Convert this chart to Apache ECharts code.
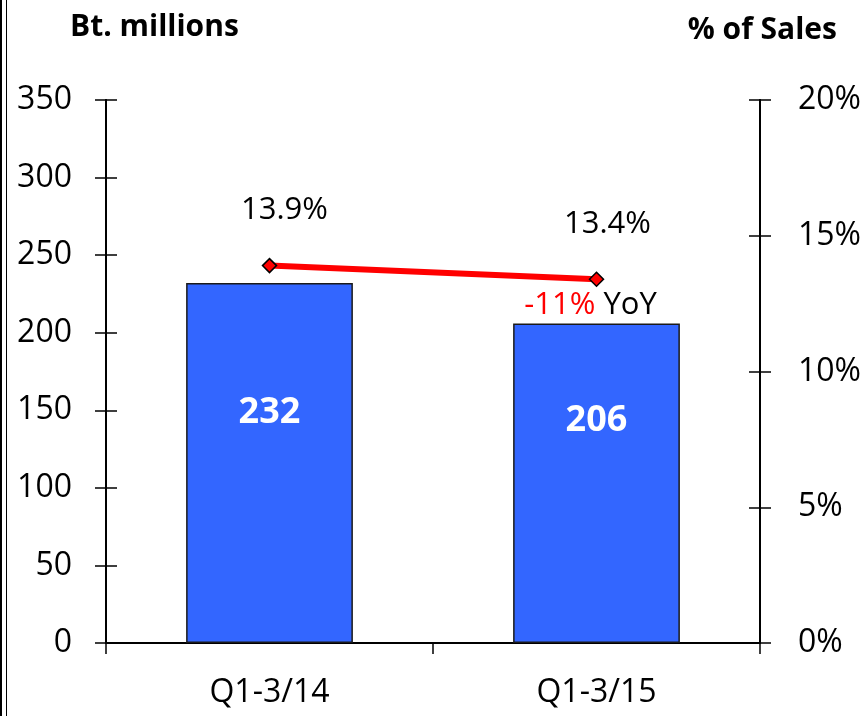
<!DOCTYPE html>
<html style="height: 100%">
<head>
	<meta charset="utf-8">
</head>
<body style="height: 100%; margin: 0; background-color: #fff;">
<div id="container" style="width: 867px; height: 716px;"></div>
<script type="text/javascript" src="https://cdn.jsdelivr.net/npm/echarts@6/dist/echarts.min.js"></script>
<script type="text/javascript">
	var categories = ['Q1-3/14', 'Q1-3/15'];
	var expenses = [232, 206];          // Bt. millions
	var pctOfSales = [13.9, 13.4];      // % of sales
	var yoyChange = -11;                // % YoY on last bar
	var leftTicks = { min: 0, max: 350, interval: 50 };
	var rightTicks = { min: 0, max: 20, interval: 5 };

	var font = 'Open Sans';
	var dom = document.getElementById('container');
	var myChart = echarts.init(dom);

	// the reference draws ticks across the axis, so each axis gets a twin with inside ticks
	function valueAxis(pos, ticks, inside, showLabel, fmt) {
		return {
			type: 'value',
			position: pos,
			min: ticks.min,
			max: ticks.max,
			interval: ticks.interval,
			axisLine: { show: true, lineStyle: { color: '#000', width: 2 } },
			axisTick: { show: true, inside: inside, length: 11, lineStyle: { color: '#000', width: 1.5 } },
			splitLine: { show: false },
			axisLabel: {
				show: showLabel,
				formatter: fmt,
				margin: pos === 'left' ? 34 : 38,
				color: '#000',
				fontSize: 32,
				fontFamily: font
			}
		};
	}

	function catAxis(inside, showLabel) {
		return {
			type: 'category',
			data: categories,
			axisLine: { show: true, lineStyle: { color: '#000', width: 2 } },
			axisTick: { show: true, inside: inside, length: 11, lineStyle: { color: '#000', width: 1.5 } },
			axisLabel: { show: showLabel, margin: 34, color: '#000', fontSize: 32, fontFamily: font }
		};
	}

	var barLabelOffsets = [[0, -50], [0, -62]];
	var lineLabelOffsets = [[15, 0], [11, 0]];

	var option = {
		animation: false,
		textStyle: { fontFamily: font },
		title: [{
			text: 'Bt. millions',
			left: 70,
			top: 12,
			padding: 0,
			textStyle: { fontSize: 30, fontWeight: 'bold', color: '#000', fontFamily: font }
		}, {
			text: '% of Sales',
			right: 30,
			top: 15,
			padding: 0,
			textStyle: { fontSize: 30, fontWeight: 'bold', color: '#000', fontFamily: font }
		}],
		graphic: [
			{ type: 'line', shape: { x1: 1, y1: 0, x2: 1, y2: 716 }, style: { stroke: '#000', lineWidth: 2 } },
			{ type: 'line', shape: { x1: 6.5, y1: 0, x2: 6.5, y2: 716 }, style: { stroke: '#000', lineWidth: 1 } }
		],
		grid: { left: 106, right: 107, top: 100, bottom: 73 },
		xAxis: [catAxis(false, true), catAxis(true, false)],
		yAxis: [
			valueAxis('left', leftTicks, false, true, '{value}'),
			valueAxis('right', rightTicks, false, true, '{value}%'),
			valueAxis('left', leftTicks, true, false, '{value}'),
			valueAxis('right', rightTicks, true, false, '{value}%')
		],
		series: [{
			type: 'bar',
			xAxisIndex: 0,
			yAxisIndex: 0,
			barWidth: '51%',
			data: expenses.map(function(v, i) {
				return { value: v, label: { offset: barLabelOffsets[i] } };
			}),
			itemStyle: { color: '#3366FF', borderColor: '#1a1a1a', borderWidth: 1.5 },
			label: {
				show: true,
				position: 'inside',
				color: '#fff',
				fontSize: 36,
				fontWeight: 'bold',
				fontFamily: font
			},
			markPoint: {
				symbol: 'rect',
				symbolSize: 1,
				itemStyle: { color: 'transparent' },
				data: [{ coord: [categories.length - 1, expenses[expenses.length - 1]] }],
				label: {
					show: true,
					position: 'top',
					distance: 2,
					offset: [-6, 0],
					formatter: function() {
						return '{r|' + yoyChange + '%}{k| YoY}';
					},
					rich: {
						r: { color: '#FF0000', fontSize: 31, fontFamily: font },
						k: { color: '#000', fontSize: 31, fontFamily: font }
					}
				}
			}
		}, {
			type: 'line',
			xAxisIndex: 0,
			yAxisIndex: 1,
			data: pctOfSales.map(function(v, i) {
				return { value: v, label: { offset: lineLabelOffsets[i] } };
			}),
			lineStyle: { color: '#FF0000', width: 6 },
			symbol: 'diamond',
			symbolSize: 14,
			itemStyle: { color: '#FF0000', borderColor: '#000', borderWidth: 1.5 },
			label: {
				show: true,
				position: 'top',
				distance: 32,
				formatter: '{c}%',
				color: '#000',
				fontSize: 31,
				fontFamily: font
			}
		}]
	};
	myChart.setOption(option);
</script>
</body>
</html>
